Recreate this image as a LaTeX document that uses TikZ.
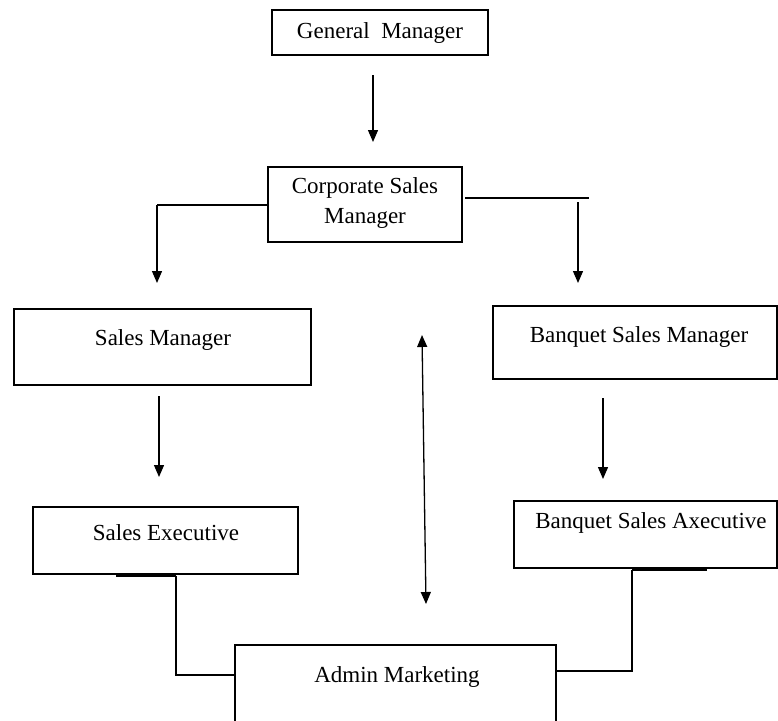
\documentclass[tikz,border=0pt]{standalone}
\usepackage{fontspec}
\setmainfont{Liberation Serif}
\usetikzlibrary{arrows.meta,calc}
\begin{document}
\begin{tikzpicture}[x=1pt,y=-1pt,
  box/.style={draw,line width=1.4pt,inner sep=0pt},
  lbl/.style={font=\fontsize{23}{30}\selectfont,align=center,inner sep=0pt},
  conn/.style={line width=1.3pt},
  arr/.style={conn,-{Triangle[length=12pt,width=10pt]}},
  darr/.style={conn,{Triangle[length=12pt,width=10pt]}-{Triangle[length=12pt,width=10pt]}},
  heavyseg/.style={line width=2.8pt}]
\useasboundingbox (0,0) rectangle (778,720);

% boxes
\node[box,minimum width=216pt,minimum height=45pt] (gm) at (380,32.5) {};
\node[box,minimum width=194pt,minimum height=75pt] (csm) at (365,204.5) {};
\node[box,minimum width=297pt,minimum height=76pt] (sm) at (162.5,347) {};
\node[box,minimum width=284pt,minimum height=73pt] (bsm) at (635,342.5) {};
\node[box,minimum width=265pt,minimum height=67pt] (se) at (165.5,540.5) {};
\node[box,minimum width=263pt,minimum height=67pt] (bse) at (645.5,534.5) {};
\node[box,minimum width=321pt,minimum height=95pt] (am) at (395.5,692.5) {};

% labels
\node[lbl] (gmt) at (380,33) {General\ \ Manager};
\node[lbl] (csmt) at (365,203) {Corporate Sales\\Manager};
\node[lbl] (smt) at (163,340) {Sales Manager};
\node[lbl] (bsmt) at (639,337) {Banquet Sales Manager};
\node[lbl] (set) at (166,533) {Sales Executive};
\node[lbl] (bset) at (651,523) {Banquet Sales Axecutive};
\node[lbl] (amt) at (397,677) {Admin Marketing};

% connector points
\coordinate (g1) at (373,75);
\coordinate (g2) at (373,142);
\coordinate (l1) at (157,205);
\coordinate (l2) at (157,283);
\coordinate (r1) at (465,198);
\coordinate (r2) at (589,198);
\coordinate (r3) at (578,202);
\coordinate (r4) at (578,283);
\coordinate (s1) at (159,396);
\coordinate (s2) at (159,477);
\coordinate (b1) at (603,398);
\coordinate (b2) at (603,479);
\coordinate (d1) at (422,335);
\coordinate (d2) at (426,604);
\coordinate (e1) at (116,575.5);
\coordinate (e2) at (176,575.5);
\coordinate (e3) at (176,675);
\coordinate (f1) at (632,569.5);
\coordinate (f2) at (707,569.5);
\coordinate (f3) at (632,671);

% connectors
\draw[arr] (g1) -- (g2);
\draw[conn] (csm.west |- l1) -- (l1);
\draw[arr] (l1) -- (l2);
\draw[heavyseg] (r1) -- (r2);
\draw[arr] (r3) -- (r4);
\draw[arr] (s1) -- (s2);
\draw[arr] (b1) -- (b2);
\draw[darr] (d1) -- (d2);
\draw[heavyseg] (e1) -- (e2);
\draw[conn] (e2) -- (e3) -- (am.west |- e3);
\draw[heavyseg] (f1) -- (f2);
\draw[conn] (f1) -- (f3) -- (am.east |- f3);
\end{tikzpicture}
\end{document}
